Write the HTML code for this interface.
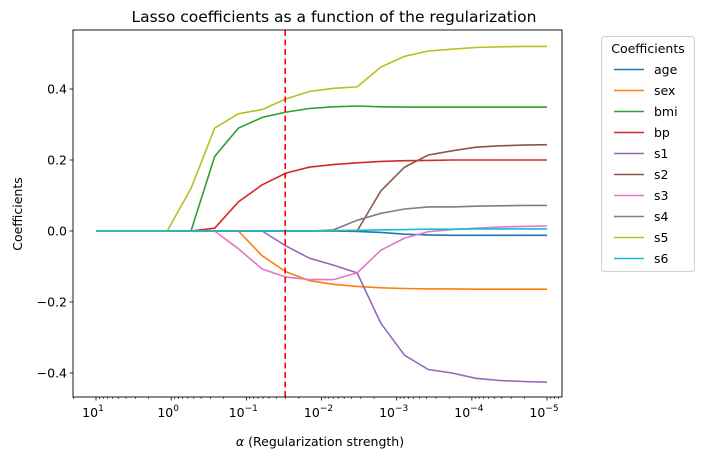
<!DOCTYPE html>
<html><head><meta charset="utf-8"><style>
body{margin:0;background:#fff}
svg{display:block;font-family:"DejaVu Sans","Liberation Sans",sans-serif}
</style></head><body>
<svg id="c" width="703" height="461" viewBox="0 0 703 461"></svg>
<script>
const alphaIndex=[0,1,2,3,4,5,6,7,8,9,10,11,12,13,14,15,16,17,18,19];
const alphaLogs=alphaIndex.map(i=>1-i*6/19);
const seriesNames=["age","sex","bmi","bp","s1","s2","s3","s4","s5","s6"];
const colors=["#1f77b4","#ff7f0e","#2ca02c","#d62728","#9467bd","#8c564b","#e377c2","#7f7f7f","#bcbd22","#17becf"];
const age=[0,0,0,0,0,0,0,0,0,0,0,-0.001,-0.004,-0.009,-0.011,-0.012,-0.012,-0.012,-0.012,-0.012];
const sex=[0,0,0,0,0,0,0,-0.07,-0.115,-0.14,-0.15,-0.156,-0.16,-0.162,-0.163,-0.163,-0.164,-0.164,-0.164,-0.164];
const bmi=[0,0,0,0,0,0.21,0.29,0.32,0.335,0.345,0.35,0.352,0.35,0.349,0.349,0.349,0.349,0.349,0.349,0.349];
const bp=[0,0,0,0,0,0.008,0.082,0.13,0.163,0.18,0.187,0.192,0.196,0.198,0.199,0.2,0.2,0.2,0.2,0.2];
const s1=[0,0,0,0,0,0,0,0,-0.042,-0.077,-0.096,-0.118,-0.26,-0.35,-0.39,-0.4,-0.415,-0.421,-0.424,-0.426];
const s2=[0,0,0,0,0,0,0,0,0,0,0,0,0.113,0.18,0.214,0.226,0.236,0.24,0.242,0.243];
const s3=[0,0,0,0,0,0,-0.05,-0.107,-0.13,-0.137,-0.137,-0.118,-0.054,-0.02,-0.002,0.004,0.008,0.011,0.013,0.014];
const s4=[0,0,0,0,0,0,0,0,0,0,0.003,0.03,0.05,0.062,0.068,0.068,0.07,0.071,0.072,0.072];
const s5=[0,0,0,0,0.12,0.29,0.33,0.342,0.372,0.393,0.402,0.406,0.462,0.492,0.507,0.512,0.517,0.519,0.52,0.52];
const s6=[0,0,0,0,0,0,0,0,0,0,0.001,0.002,0.003,0.004,0.005,0.005,0.006,0.006,0.006,0.006];
const allSeries=[age,sex,bmi,bp,s1,s2,s3,s4,s5,s6];
const yTicks=[-0.4,-0.2,0.0,0.2,0.4];
const yTickLabels=["\u22120.4","\u22120.2","0.0","0.2","0.4"];
const xTickExps=[1,0,-1,-2,-3,-4,-5];
const chosenIndex=8;

const L=73,R=562,T=30,B=397;
const X=lg=>96+(1-lg)*75.17;
const Y=v=>231-v*355;
const ns="http://www.w3.org/2000/svg";
const svg=document.getElementById('c');
function mk(tag,attrs,parent){const e=document.createElementNS(ns,tag);for(const k in attrs)e.setAttribute(k,attrs[k]);(parent||svg).appendChild(e);return e;}

let t=mk('text',{x:334,y:22,'text-anchor':'middle','font-size':15.5,fill:'#000'});


t.textContent='Lasso coefficients as a function of the regularization';

const gS=mk('g',{'clip-path':'url(#clip)'});
mk('clipPath',{id:'clip'}).appendChild((()=>{const r=document.createElementNS(ns,'rect');r.setAttribute('x',L);r.setAttribute('y',T);r.setAttribute('width',R-L);r.setAttribute('height',B-T);return r;})());
allSeries.forEach((s,k)=>{
  const p=mk('polyline',{points:s.map((v,i)=>X(alphaLogs[i]).toFixed(1)+','+Y(v).toFixed(1)).join(' '),fill:'none',stroke:colors[k],'stroke-width':1.6},gS);
  
  
});
const cx=X(alphaLogs[chosenIndex])-0.7;
const dl=mk('line',{x1:cx,x2:cx,y1:T,y2:B,stroke:'#ff0000','stroke-width':1.6,'stroke-dasharray':'6,3.5'});



const fr=mk('rect',{x:L,y:T,width:R-L,height:B-T,fill:'none',stroke:'#000','stroke-width':0.9});



yTicks.forEach((v,i)=>{
  mk('line',{x1:L-3.5,x2:L,y1:Y(v),y2:Y(v),stroke:'#000','stroke-width':0.8});
  const tx=mk('text',{x:L-6,y:Y(v)+4.5,'text-anchor':'end','font-size':12.5});
  
  
  tx.textContent=yTickLabels[i];
});
xTickExps.forEach(e=>{
  const x=X(e);
  mk('line',{x1:x,x2:x,y1:B,y2:B+3.5,stroke:'#000','stroke-width':0.8});
  const tx=mk('text',{x:x-3,y:B+20,'text-anchor':'middle','font-size':12.5});
  
  
  tx.textContent='10';
  const sp=document.createElementNS(ns,'tspan');
  sp.setAttribute('font-size','9');sp.setAttribute('dy','-6');
  sp.textContent=e<0?'\u2212'+(-e):String(e);
  tx.appendChild(sp);
});
for(let e=2;e>=-6;e--){for(let m=2;m<=9;m++){const x=X(e+Math.log10(m));if(x>=L&&x<=R)mk('line',{x1:x,x2:x,y1:B,y2:B+2,stroke:'#000','stroke-width':0.6});}}

let xl=mk('text',{x:320,y:446,'text-anchor':'middle','font-size':12.5});


xl.innerHTML='<tspan font-style="italic">α</tspan> (Regularization strength)';
let yl=mk('text',{x:22,y:214,'text-anchor':'middle','font-size':12.5,transform:'rotate(-90 22 214)'});


yl.textContent='Coefficients';

const lg=mk('g',{});


mk('rect',{x:601.5,y:36.5,width:93,height:235,rx:3,fill:'#fff',stroke:'#d0d0d0','stroke-width':1},lg);
const lt=mk('text',{x:648,y:53,'text-anchor':'middle','font-size':12.5},lg);
lt.textContent='Coefficients';
seriesNames.forEach((n,k)=>{
  const y=69.5+k*21;
  const e=mk('g',{},lg);
  
  
  mk('line',{x1:614,x2:644,y1:y,y2:y,stroke:colors[k],'stroke-width':1.6},e);
  const tx=mk('text',{x:654,y:y+4.5,'font-size':12.5},e);
  tx.textContent=n;
});
</script>
</body></html>
